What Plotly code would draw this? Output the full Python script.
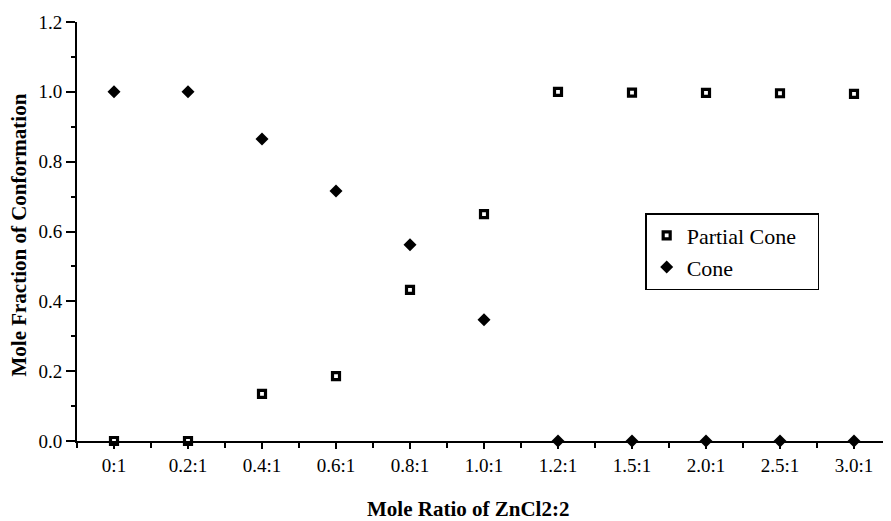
import plotly.graph_objects as go

categories = ["0:1", "0.2:1", "0.4:1", "0.6:1", "0.8:1", "1.0:1", "1.2:1", "1.5:1", "2.0:1", "2.5:1", "3.0:1"]
partial_cone = [0.0, 0.0, 0.135, 0.186, 0.433, 0.650, 1.0, 0.998, 0.997, 0.996, 0.994]
cone = [1.0, 1.0, 0.865, 0.716, 0.562, 0.347, 0.0, 0.0, 0.0, 0.0, 0.0]
y_ticks = [0.0, 0.2, 0.4, 0.6, 0.8, 1.0, 1.2]

xpos = list(range(len(categories)))
FONT = "Liberation Serif, Times New Roman, serif"

fig = go.Figure()
fig.add_trace(go.Scatter(
    x=xpos, y=partial_cone, mode="markers", name="Partial Cone\u00a0\u00a0\u00a0",
    legendgroup="a",
    marker=dict(symbol="square-open", size=7, color="black", line=dict(width=3.2, color="black")),
    cliponaxis=False,
))
fig.add_trace(go.Scatter(
    x=xpos, y=cone, mode="markers", name="Cone",
    legendgroup="b",
    marker=dict(symbol="diamond", size=10, color="black", line=dict(width=0)),
    cliponaxis=False,
))

# page body has an 8px margin, so the figure is 8px smaller and margins shifted
fig.update_layout(
    width=883, height=513,
    margin=dict(l=69, r=0, t=14, b=80),
    paper_bgcolor="white", plot_bgcolor="white",
    font=dict(family=FONT, size=19, color="black"),
    showlegend=True,
    legend=dict(
        x=0.698, y=0.544, xanchor="left", yanchor="top",
        bordercolor="black", borderwidth=1.5, bgcolor="white",
        font=dict(family=FONT, size=22, color="black"),
        traceorder="grouped", tracegroupgap=0,
    ),
    xaxis=dict(
        range=[-0.5, 10.5], showgrid=False, zeroline=False, automargin=False,
        showline=True, linecolor="black", linewidth=2,
        tickvals=xpos, ticktext=categories,
        ticks="outside", ticklen=6, tickwidth=2, tickcolor="black",
        minor=dict(tickvals=[i + 0.5 for i in range(-1, len(categories))],
                   ticks="outside", ticklen=5, tickwidth=2, tickcolor="black"),
        tickfont=dict(family=FONT, size=19),
    ),
    yaxis=dict(
        range=[0, 1.2], showgrid=False, zeroline=False, automargin=False,
        showline=True, linecolor="black", linewidth=2,
        tickvals=y_ticks, tickformat=".1f",
        ticks="outside", ticklen=9, tickwidth=2, tickcolor="black",
        minor=dict(dtick=0.1, tick0=0, ticks="outside", ticklen=4, tickwidth=2, tickcolor="black"),
        tickfont=dict(family=FONT, size=19),
    ),
    annotations=[
        dict(text="<b>Mole Ratio of ZnCl2:2</b>", xref="paper", yref="paper",
             x=0.5, y=0, xanchor="center", yanchor="middle", xshift=-16, yshift=-68,
             showarrow=False, font=dict(family=FONT, size=21)),
        dict(text="<b>Mole Fraction of Conformation</b>", xref="paper", yref="paper",
             x=0, y=0.5, xanchor="center", yanchor="middle", xshift=-59, yshift=-4,
             textangle=-90, showarrow=False, font=dict(family=FONT, size=21)),
    ],
)

fig.write_html("out.html")
